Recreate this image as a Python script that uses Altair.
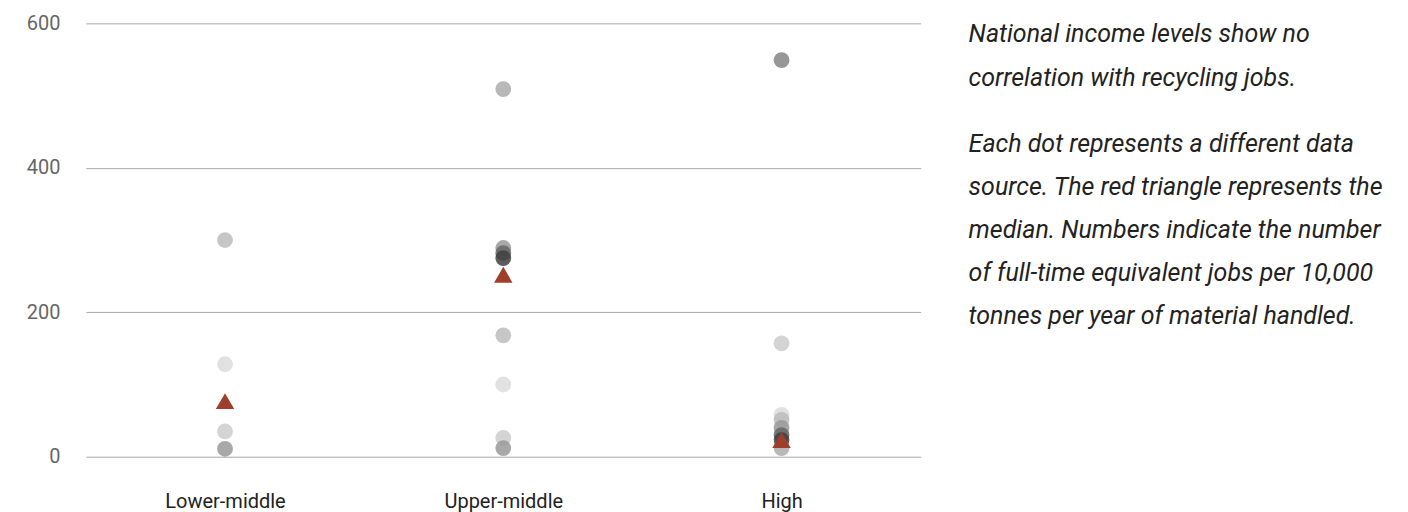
import altair as alt
import pandas as pd

# Data
income = ["Lower-middle"] * 4 + ["Upper-middle"] * 8 + ["High"] * 8
jobs = [300, 128, 35, 11,
        509, 289, 282, 275, 168, 100, 26, 12,
        549, 157, 58, 51, 40, 30, 23, 12]
source = ["S3", "S1", "S2", "S5",
          "S4", "S5", "S7", "S8", "S3", "S1", "S2", "S5",
          "S6", "S2", "S1", "S3", "S5", "S7", "S8", "S4"]

median_income = ["Lower-middle", "Upper-middle", "High"]
median_jobs = [77, 252, 23]

categories = ["Lower-middle", "Upper-middle", "High"]
source_names = ["S1", "S2", "S3", "S4", "S5", "S6", "S7", "S8"]
source_greys = ["#dcdcdc", "#cccccc", "#bcbcbc", "#acacac", "#999999", "#858585", "#666666", "#3f3f3f"]

note_lines = [
    "National income levels show no",
    "correlation with recycling jobs.",
    "Each dot represents a different data",
    "source. The red triangle represents the",
    "median. Numbers indicate the number",
    "of full-time equivalent jobs per 10,000",
    "tonnes per year of material handled.",
]
note_y = [34, 78, 144, 187, 230, 273, 316]

dots = pd.DataFrame({"income": income, "jobs": jobs, "source": source})
meds = pd.DataFrame({"income": median_income, "jobs": median_jobs})
notes = pd.DataFrame({"line": note_lines, "ypix": [v - 23 for v in note_y]})

FONT = "Roboto"

x_enc = alt.X(
    "income:N",
    sort=categories,
    scale=alt.Scale(type="point", domain=categories, padding=0.5),
    axis=alt.Axis(title=None, labelAngle=0, domain=False, ticks=False,
                  labelPadding=35, labelFontSize=20, labelColor="#222222",
                  labelFont=FONT, grid=False),
)
y_enc = alt.Y(
    "jobs:Q",
    scale=alt.Scale(domain=[0, 600], nice=False),
    axis=alt.Axis(title=None, values=[0, 200, 400, 600], domain=False, ticks=False,
                  labelPadding=26, labelFontSize=20, labelColor="#666666",
                  labelFont=FONT, gridColor="#a8a8a8", gridWidth=1),
)

points = alt.Chart(dots).mark_circle(size=250, opacity=0.85).encode(
    x=x_enc,
    y=y_enc,
    color=alt.Color("source:N", scale=alt.Scale(domain=source_names, range=source_greys), legend=None),
)

tri = alt.Chart(meds).mark_point(shape="triangle-up", filled=True, size=340,
                                 color="#9e3f2c", opacity=1).encode(
    x=alt.X("income:N", sort=categories),
    y=alt.Y("jobs:Q"),
)

text = alt.Chart(notes).mark_text(
    align="left", baseline="middle", font=FONT, fontSize=25, fontStyle="italic",
    color="#222222",
).encode(
    x=alt.value(884),
    y=alt.Y("ypix:Q", scale=None),
    text="line:N",
)

chart = alt.layer(points, tri, text).properties(
    width=836,
    height=434,
    autosize=alt.AutoSizeParams(type="none"),
    padding={"left": 78, "top": 15, "right": 480, "bottom": 55},
).configure_view(stroke=None)

chart.save("out.html", embed_options={"renderer": "svg", "actions": False})
